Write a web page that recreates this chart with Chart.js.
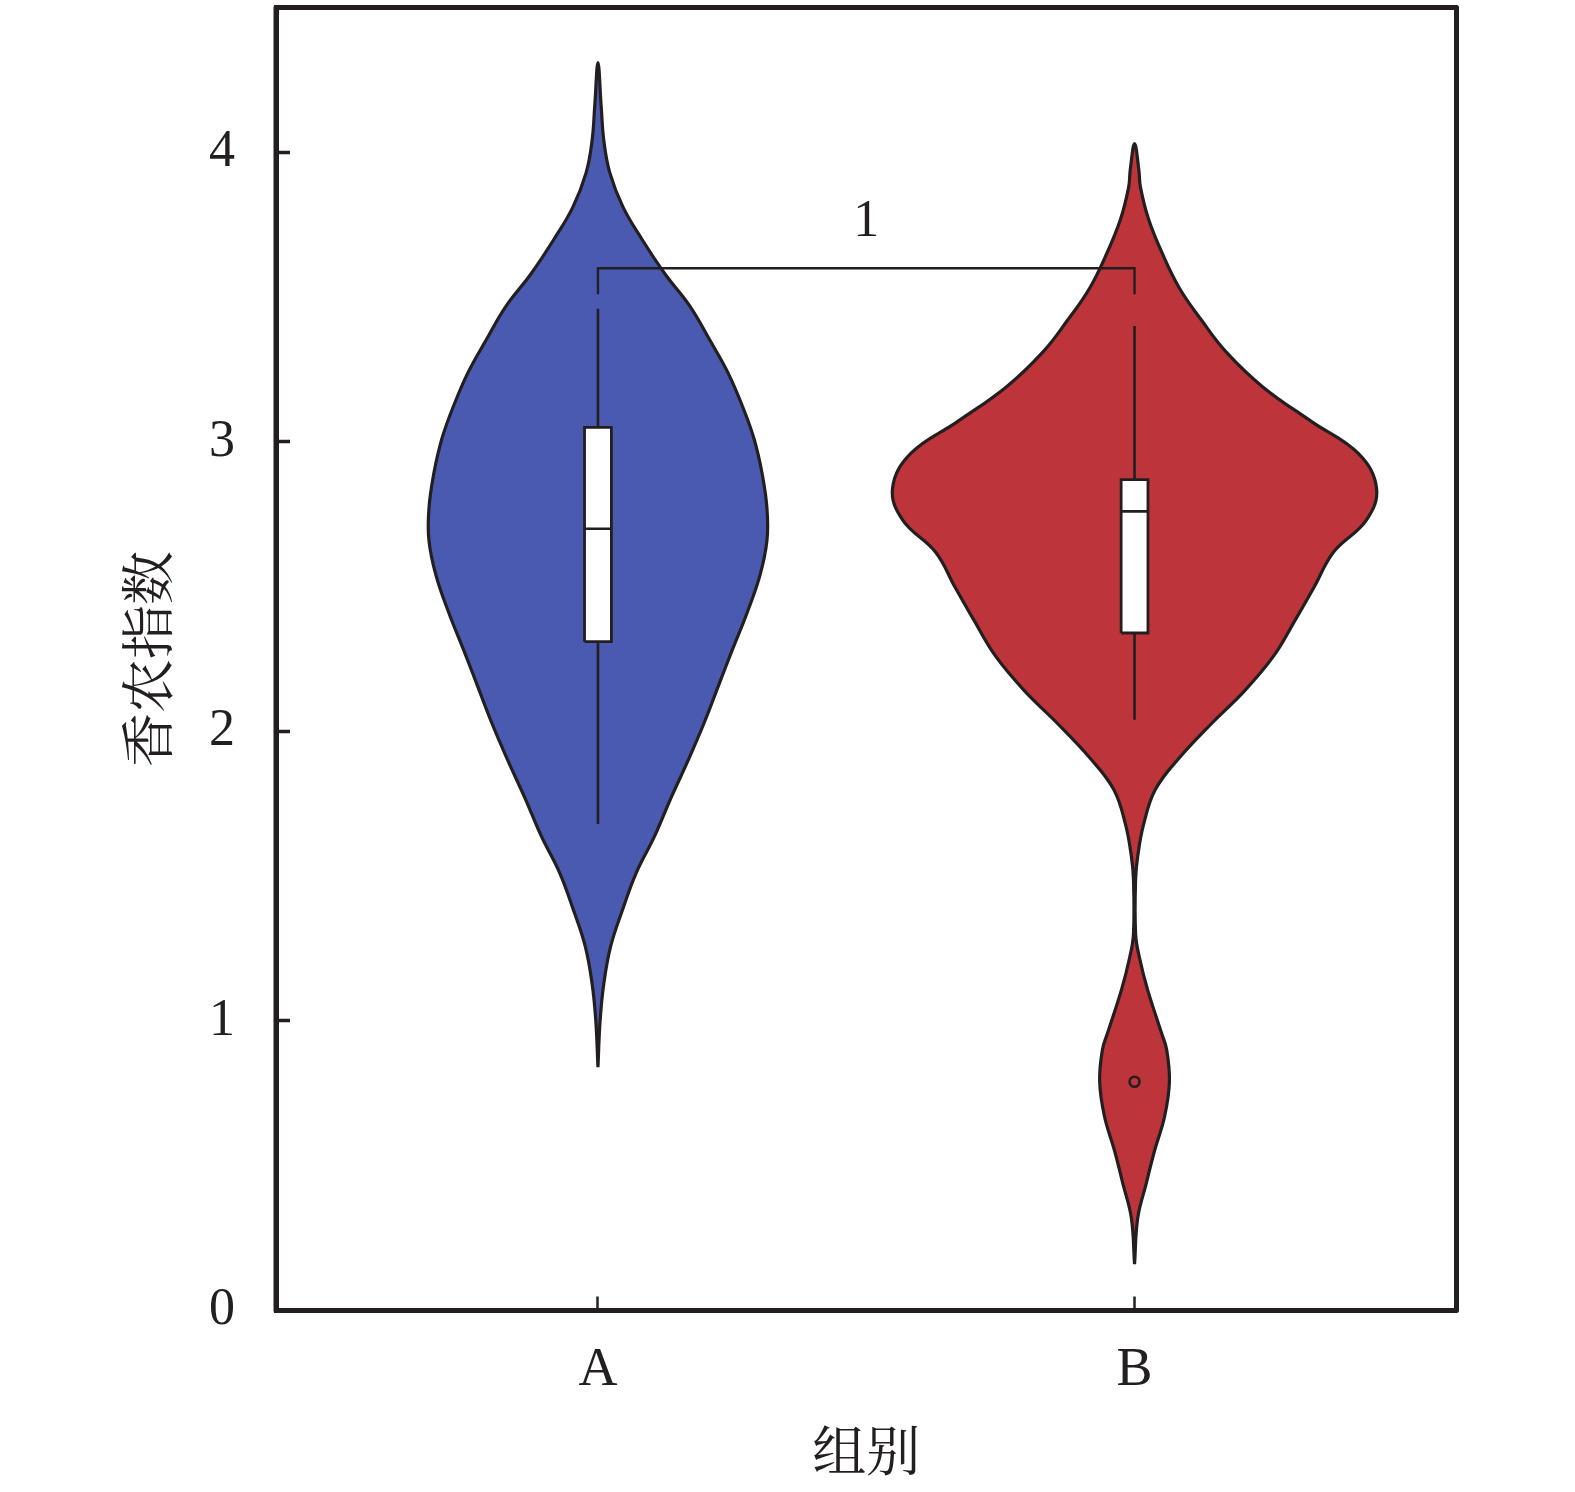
<!DOCTYPE html>
<html>
<head>
<meta charset="utf-8">
<script src="https://cdn.jsdelivr.net/npm/chart.js@4.4.1/dist/chart.umd.min.js"></script>
<style>
    html, body { margin: 0; padding: 0; background: #fff; }
    #wrap { width: 1575px; height: 1492px; position: relative; }
</style>
</head>
<body>
<div id="wrap"><canvas id="violinChart"></canvas></div>
<script>
// groups on the x axis
const groups = ['A', 'B'];
const groupPos = [0, 1];
const yTicks = [0, 1, 2, 3, 4];

// violin outlines, top to bottom: y value and half width (x units)
const violinAY = [4.31, 4.16, 4.04, 3.93, 3.81, 3.70, 3.58, 3.47, 3.35, 3.24, 3.12, 3.01, 2.89, 2.77, 2.66, 2.54, 2.41, 2.28, 2.16, 2.03, 1.90, 1.77, 1.64, 1.51, 1.39, 1.26, 1.13, 1.00, 0.84];
const violinAW = [0, 0.006, 0.011, 0.022, 0.047, 0.082, 0.125, 0.171, 0.209, 0.242, 0.270, 0.291, 0.306, 0.315, 0.315, 0.302, 0.278, 0.250, 0.225, 0.198, 0.168, 0.136, 0.106, 0.071, 0.047, 0.024, 0.011, 0.004, 0];
const violinBY = [4.03, 3.94, 3.88, 3.77, 3.65, 3.53, 3.42, 3.31, 3.19, 3.07, 2.96, 2.84, 2.73, 2.62, 2.50, 2.38, 2.26, 2.14, 2.03, 1.91, 1.80, 1.68, 1.57, 1.49, 1.30, 1.22, 1.11, 0.96, 0.90, 0.79, 0.67, 0.55, 0.44, 0.32, 0.16];
const violinBW = [0, 0.008, 0.011, 0.026, 0.052, 0.084, 0.125, 0.171, 0.239, 0.330, 0.417, 0.451, 0.432, 0.371, 0.335, 0.298, 0.259, 0.205, 0.145, 0.084, 0.039, 0.017, 0.006, 0.002, 0.002, 0.009, 0.024, 0.050, 0.060, 0.065, 0.056, 0.037, 0.022, 0.006, 0];

// box plots: whisker low, q1, median, q3, whisker high
const boxA = [1.68, 2.31, 2.70, 3.05, 3.46];
const boxB = [2.04, 2.34, 2.76, 2.87, 3.40];
const outliersB = [0.79];

// significance bracket
const bracketTop = 3.60;
const bracketFoot = 3.51;
const bracketLabel = '1';
const bracketLabelY = 3.76;

const ink = '#231f20';
const blue = '#4a5ab0';
const red = '#be343b';
const boxHalf = 0.025;
const serif = "'Liberation Serif', 'Times New Roman', serif";
const cjk = "'Noto Serif CJK SC', 'Noto Sans CJK SC', sans-serif";

function violinPoints(c, ys, ws) {
    const pts = [];
    for (let i = ys.length - 1; i >= 0; i--) pts.push({ x: c + ws[i], y: ys[i] });
    for (let i = 1; i < ys.length; i++) pts.push({ x: c - ws[i], y: ys[i] });
    return pts;
}

function lineDs(data, opts) {
    return Object.assign({
        type: 'line',
        data: data,
        borderColor: ink,
        borderWidth: 2.6,
        pointRadius: 0,
        fill: false,
        tension: 0
    }, opts);
}

function boxDatasets(c, b) {
    return [
        lineDs([{ x: c, y: b[0] }, { x: c, y: b[1] }], { order: 4 }),
        lineDs([{ x: c, y: b[3] }, { x: c, y: b[4] }], { order: 4 }),
        lineDs([
            { x: c - boxHalf, y: b[1] }, { x: c + boxHalf, y: b[1] },
            { x: c + boxHalf, y: b[3] }, { x: c - boxHalf, y: b[3] },
            { x: c - boxHalf, y: b[1] }
        ], { fill: 'shape', backgroundColor: '#ffffff', borderWidth: 2.8, order: 3 }),
        lineDs([{ x: c - boxHalf, y: b[2] }, { x: c + boxHalf, y: b[2] }], { order: 2 })
    ];
}

const datasets = [
    lineDs(violinPoints(groupPos[0], violinAY, violinAW), { fill: 'shape', backgroundColor: blue, borderWidth: 3.2, tension: 0.4, order: 5 }),
    lineDs(violinPoints(groupPos[1], violinBY, violinBW), { fill: 'shape', backgroundColor: red, borderWidth: 3.2, tension: 0.4, order: 5 }),
    ...boxDatasets(groupPos[0], boxA),
    ...boxDatasets(groupPos[1], boxB),
    lineDs(outliersB.map(v => ({ x: groupPos[1], y: v })), {
        showLine: false,
        pointRadius: 5,
        pointBorderWidth: 2.6,
        pointBorderColor: ink,
        pointBackgroundColor: 'rgba(0,0,0,0)',
        order: 1
    }),
    lineDs([
        { x: groupPos[0], y: bracketFoot }, { x: groupPos[0], y: bracketTop },
        { x: groupPos[1], y: bracketTop }, { x: groupPos[1], y: bracketFoot }
    ], { borderWidth: 2.4, order: 1 })
];

const framePlugin = {
    id: 'frame',
    afterDatasetsDraw(chart) {
        const { ctx, scales } = chart;
        ctx.save();
        ctx.font = '52px ' + serif;
        ctx.fillStyle = ink;
        ctx.textAlign = 'center';
        ctx.textBaseline = 'middle';
        ctx.fillText(bracketLabel,
            scales.x.getPixelForValue((groupPos[0] + groupPos[1]) / 2),
            scales.y.getPixelForValue(bracketLabelY));
        ctx.restore();
    },
    afterDraw(chart) {
        const { ctx, chartArea: a } = chart;
        ctx.save();
        ctx.strokeStyle = ink;
        ctx.lineWidth = 5;
        ctx.lineJoin = 'round';
        ctx.strokeRect(a.left, a.top, a.right - a.left, a.bottom - a.top);
        ctx.restore();
    }
};

const canvas = document.getElementById('violinChart');
new Chart(canvas.getContext('2d'), {
    type: 'line',
    data: { datasets: datasets },
    options: {
        responsive: true,
        maintainAspectRatio: false,
        animation: false,
        events: [],
        layout: { padding: { top: 2.5, right: 118.5, left: 0, bottom: 0 } },
        plugins: {
            legend: { display: false },
            tooltip: { enabled: false }
        },
        scales: {
            x: {
                type: 'linear',
                min: -0.6,
                max: 1.6,
                afterBuildTicks: function (s) { s.ticks = groupPos.map(v => ({ value: v })); },
                afterFit: function (s) {
                    s.height = 181.5;
                    s.paddingLeft = 0;
                    s.paddingRight = 0;
                },
                grid: { drawOnChartArea: false, drawTicks: true, tickLength: -14, tickWidth: 2.5, tickColor: ink },
                border: { display: true, width: 5, color: ink },
                ticks: {
                    callback: function (value) {
                        const i = groupPos.indexOf(value);
                        return i >= 0 ? groups[i] : '';
                    },
                    font: { family: serif, size: 54 },
                    color: ink,
                    padding: 42,
                    maxRotation: 0,
                    autoSkip: false
                },
                title: {
                    display: true,
                    text: '组别',
                    font: { family: cjk, size: 54 },
                    color: ink,
                    padding: { top: 0, bottom: 9 }
                }
            },
            y: {
                min: 0,
                max: 4.5,
                afterBuildTicks: function (s) { s.ticks = yTicks.map(v => ({ value: v })); },
                afterFit: function (s) {
                    s.width = 276;
                    s.paddingTop = 0;
                    s.paddingBottom = 0;
                },
                grid: { drawOnChartArea: false, drawTicks: true, tickLength: -14, tickWidth: 3.5, tickColor: ink },
                border: { display: true, width: 5, color: ink },
                ticks: {
                    font: { family: serif, size: 52 },
                    color: ink,
                    padding: 55
                },
                title: {
                    display: true,
                    text: '香农指数',
                    font: { family: cjk, size: 54 },
                    color: ink,
                    padding: { top: 115, bottom: 0 }
                }
            }
        }
    },
    plugins: [framePlugin]
});
</script>
</body>
</html>
